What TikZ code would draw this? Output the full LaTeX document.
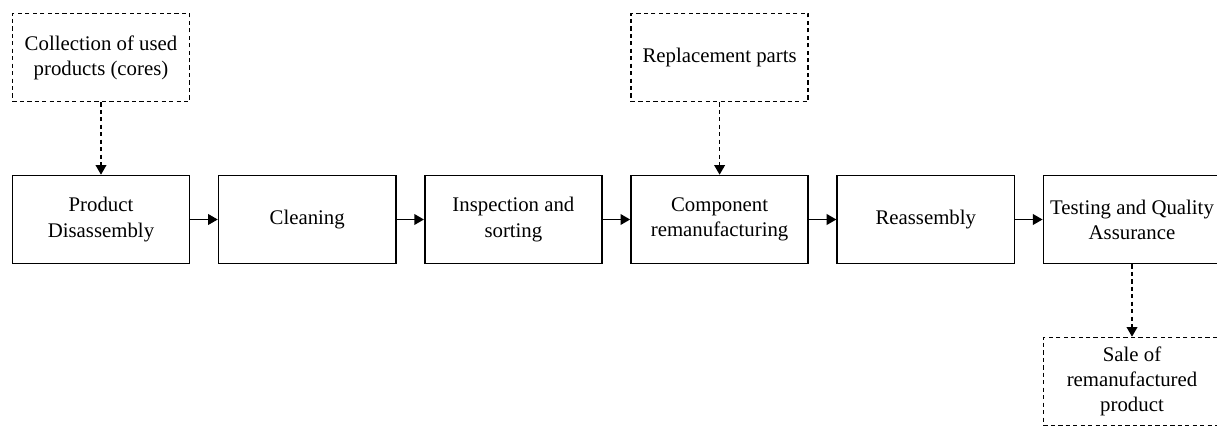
\documentclass[tikz,border=0pt]{standalone}
\usepackage{fontspec}
\setmainfont{Liberation Serif}
\usetikzlibrary{arrows.meta,positioning}

\begin{document}
\begin{tikzpicture}[x=0.75pt,y=0.75pt,
    every node/.style={font=\fontsize{15.6}{18.8}\selectfont, align=center},
    stagebox/.style={draw, line width=1.2pt, minimum width=133pt, minimum height=66pt, inner sep=2pt},
    inputbox/.style={stagebox, dash pattern=on 3.2pt off 2.4pt},
    flow/.style={-{Triangle[length=7.2pt,width=8pt]}, line width=1.1pt},
    feed/.style={flow, dash pattern=on 3.2pt off 2.4pt},
    node distance=54.3pt and 20.45pt]
  \useasboundingbox (0,0) rectangle (1217,429);

  % process chain
  \node[stagebox] (disasm) at (101,209.5) {Product\\Disassembly};
  \node[stagebox, right=of disasm] (clean) {Cleaning};
  \node[stagebox, right=of clean] (inspect) {Inspection and\\sorting};
  \node[stagebox, right=of inspect] (reman) {Component\\remanufacturing};
  \node[stagebox, right=of reman] (reasm) {Reassembly};
  \node[stagebox, right=of reasm] (test) {Testing and Quality\\Assurance};

  % inputs and output
  \node[inputbox, above=of disasm] (cores) {Collection of used\\products (cores)};
  \node[inputbox, above=of reman] (parts) {Replacement parts};
  \node[inputbox, below=of test] (sale) {Sale of\\remanufactured\\product};

  % arrows
  \foreach \a/\b in {disasm/clean, clean/inspect, inspect/reman, reman/reasm, reasm/test}
    \draw[flow] (\a) -- (\b);
  \draw[feed] (cores) -- (disasm);
  \draw[feed] (parts) -- (reman);
  \draw[feed] (test) -- (sale);
\end{tikzpicture}
\end{document}
